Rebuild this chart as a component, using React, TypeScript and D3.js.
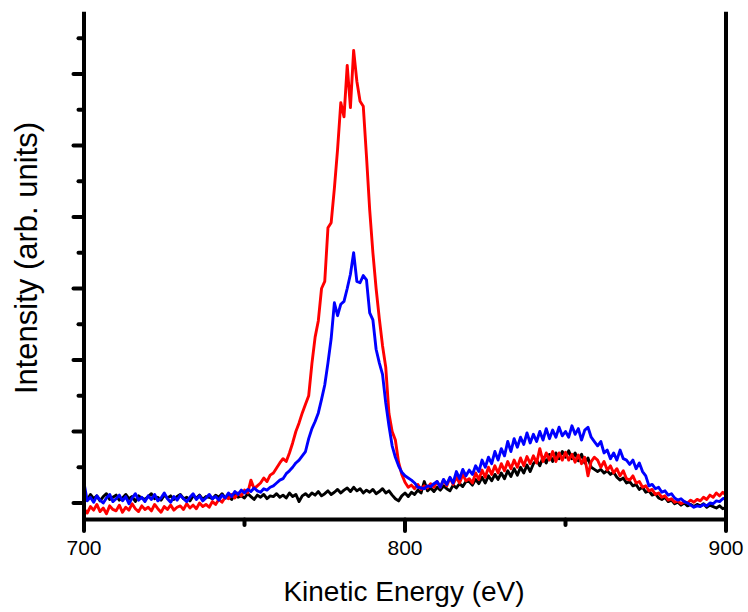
import React from "react";
import * as d3 from "d3";

const energyStart = 700;
const energyStep = 1;

const blackSeries = [
  8, 4, 12, 6, 10, 3, 9, 13, 5, 8,
  11, 4, 7, 12, 6, 9, 2, 10, 7, 5,
  9, 13, 6, 8, 4, 11, 7, 10, 5, 9,
  12, 6, 8, 3, 10, 7, 11, 5, 9, 8,
  6, 11, 8, 13, 7, 9, 5, 12, 8, 10,
  7, 13, 9, 5, 11, 8, 12, 6, 10, 9,
  13, 8, 11, 7, 14, 9, 12, 2, 10, 13,
  9, 14, 11, 16, 10, 13, 17, 12, 15, 19,
  14, 18, 21, 16, 22, 17, 20, 14, 18, 15,
  19, 13, 16, 20, 14, 17, 11, 6, 3, 10,
  14, 9, 15, 12, 18, 14, 30, 17, 21, 16,
  22, 18, 24, 20, 17, 25, 21, 27, 23, 30,
  30, 25, 33, 27, 36, 28, 38, 31, 40, 33,
  42, 34, 45, 37, 48, 39, 50, 42, 53, 44,
  55, 60, 52, 64, 56, 68, 58, 70, 62, 72,
  64, 73, 62, 70, 59, 68, 56, 63, 50, 47,
  44, 47, 42, 45, 40, 43, 36, 32, 35, 28,
  30, 24, 26, 19, 22, 15, 17, 11, 13, 7,
  5, 8, 2, 4, -1, 1, -3, 0, -4, -2,
  -5, -2, -4, -1, -6, -3, -5, -7, -4, -8,
  -6,
];

const redSeries = [
  -8, -14, -5, -10, -2, -12, -7, -15, -4, -9,
  -11, -3, -13, -6, -10, -1, -8, -12, -4, -9,
  -6, -11, -2, -8, -13, -5, -9, -3, -10, -6,
  -4, -9, -1, -7, -3, -8, 0, -5, -2, -6,
  2, -2, 5, 1, 8, 6, 12, 7, 14, 10,
  18, 14, 32, 20, 24, 28, 35, 30, 39, 42,
  49, 56, 62, 58, 70, 84, 100, 112, 126, 138,
  150, 195, 232, 255, 300, 310, 385, 392, 440, 495,
  560, 540, 612, 553, 633, 590, 562, 555, 485, 410,
  350, 300, 258, 220, 190, 125, 100, 88, 57, 40,
  29, 22, 25, 20, 26, 19, 24, 21, 27, 22,
  30, 22, 32, 24, 35, 26, 36, 28, 40, 31,
  34, 28, 42, 33, 46, 36, 50, 40, 52, 42,
  55, 45, 58, 48, 60, 50, 63, 52, 65, 55,
  66, 56, 76, 58, 70, 60, 72, 58, 70, 60,
  71, 60, 68, 57, 67, 55, 64, 38, 58, 64,
  60, 50, 58, 46, 52, 42, 48, 38, 45, 34,
  32, 38, 28, 30, 22, 24, 17, 19, 12, 14,
  8, 10, 4, 6, 1, 3, -1, 2, 0, 4,
  1, 5, 3, 8, 5, 11, 8, 14, 10, 15,
  11,
];

const blueSeries = [
  28, 3, 8, 1, 10, 4, 0, 7, 12, 2,
  6, 11, 3, 9, -1, 7, 13, 4, 8, 2,
  10, 5, 12, 3, 7, 14, 6, 1, 9, 4,
  11, 6, 2, 8, 13, 5, 10, 3, 7, 12,
  6, 9, 4, 11, 7, 14, 9, 16, 12, 18,
  14, 19, 16, 21, 17, 15, 20, 18, 22, 24,
  28, 32, 34, 41, 45, 50, 56, 60, 66, 72,
  90, 104, 114, 126, 145, 165, 196, 230, 280, 262,
  278, 282, 300, 320, 350, 310, 308, 318, 312, 266,
  256, 215, 196, 180, 140, 108, 80, 64, 52, 43,
  38, 35, 32, 28, 22, 21, 20, 24, 23, 27,
  30, 22, 33, 26, 36, 28, 44, 34, 47, 38,
  46, 40, 52, 44, 60, 50, 64, 55, 72, 60,
  76, 66, 86, 72, 90, 78, 92, 82, 98, 84,
  96, 86, 100, 88, 104, 90, 102, 92, 106, 94,
  100, 92, 108, 96, 104, 88, 102, 106, 92, 86,
  80, 86, 70, 74, 62, 70, 60, 74, 62, 60,
  54, 60, 48, 56, 44, 38, 24, 26, 20, 22,
  15, 17, 11, 13, 7, 4, 6, 2, 0, -3,
  -6, -4, -5, -2, -4, 0, -1, 3, 2, 6,
  7,
];

const xTickLabels = [700, 800, 900];
const xMinorTicks = [750, 850];
const yMajorTicks = [0, 100, 200, 300, 400, 500, 600];
const yMinorTicks = [50, 150, 250, 350, 450, 550, 650];

const seriesList = [
  { name: "black", values: blackSeries, color: "#000000" },
  { name: "red", values: redSeries, color: "#ff0000" },
  { name: "blue", values: blueSeries, color: "#0000ff" },
];

export default function App() {
  const W = 748;
  const H = 612;
  const x = d3.scaleLinear().domain([700, 900]).range([84, 726]);
  const y = d3.scaleLinear().domain([0, 100]).range([503, 431.5]);
  const yTop = y(687);
  const yBottom = y(-23);

  const line = d3
    .line<number>()
    .x((_, i) => x(energyStart + i * energyStep))
    .y((v) => y(v));

  const font = "'Liberation Sans', Arial, sans-serif";

  return (
    <svg
      width={W}
      height={H}
      style={{ position: "absolute", left: 0, top: 0, background: "#fff" }}
    >
      {seriesList.map((s) => (
        <path
          key={s.name}
          d={line(s.values) || ""}
          fill="none"
          stroke={s.color}
          strokeWidth={2.9}
          strokeLinejoin="round"
        />
      ))}
      <line x1={x(700)} x2={x(700)} y1={yTop} y2={yBottom} stroke="#000" strokeWidth={4} />
      <line x1={x(900)} x2={x(900)} y1={yTop} y2={yBottom} stroke="#000" strokeWidth={4} />
      <line x1={x(700) - 2} x2={x(900) + 2} y1={yBottom} y2={yBottom} stroke="#000" strokeWidth={4} />
      {yMajorTicks.map((t) => (
        <line key={"ym" + t} x1={x(700)} x2={x(700) - 10.5} y1={y(t)} y2={y(t)} stroke="#000" strokeWidth={4} strokeLinecap="round" />
      ))}
      {yMinorTicks.map((t) => (
        <line key={"yn" + t} x1={x(700)} x2={x(700) - 5.5} y1={y(t)} y2={y(t)} stroke="#000" strokeWidth={4} strokeLinecap="round" />
      ))}
      {xTickLabels.map((t) => (
        <line key={"xm" + t} x1={x(t)} x2={x(t)} y1={yBottom} y2={yBottom + 11.5} stroke="#000" strokeWidth={4} strokeLinecap="round" />
      ))}
      {xMinorTicks.map((t) => (
        <line key={"xn" + t} x1={x(t)} x2={x(t)} y1={yBottom} y2={yBottom + 5.5} stroke="#000" strokeWidth={4} strokeLinecap="round" />
      ))}
      {xTickLabels.map((t) => (
        <text key={"xl" + t} x={x(t)} y={555} textAnchor="middle" fontFamily={font} fontSize={21} fill="#000">
          {t}
        </text>
      ))}
      <text x={404} y={601} textAnchor="middle" fontFamily={font} fontSize={28} fill="#000">
        Kinetic Energy (eV)
      </text>
      <text
        transform={`translate(37, 258) rotate(-90)`}
        textAnchor="middle"
        fontFamily={font}
        fontSize={31}
        fill="#000"
      >
        Intensity (arb. units)
      </text>
    </svg>
  );
}
